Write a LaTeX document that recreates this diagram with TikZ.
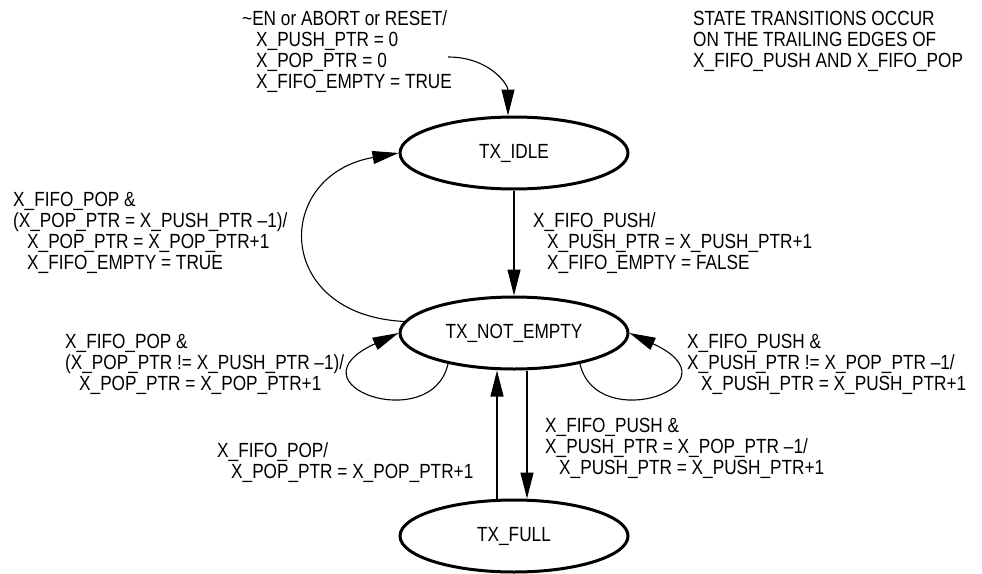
\documentclass[tikz,border=0pt]{standalone}
\usepackage{fontspec}
\setmainfont[FakeStretch=0.84]{Liberation Sans}
\usetikzlibrary{arrows.meta,shapes.geometric}
\newcommand{\ind}{\hspace*{14pt}}

\begin{document}
\begin{tikzpicture}[x=1pt, y=-1pt,
		every node/.style={font=\fontsize{20.5}{21.2}\selectfont},
		state/.style={draw, ellipse, line width=3pt, minimum width=228pt, minimum height=72pt, inner sep=0pt},
		lbl/.style={align=left, anchor=base west, inner sep=0pt},
		trans/.style={line width=1.1pt, -{Triangle[length=26pt,width=13pt]}}]
		%%%%% START %%%%%
		\useasboundingbox (0,0) rectangle (982,573);
		
		\node[state] (idle) at (514,153) {TX\_IDLE};
		\node[state] (notempty) at (514,333) {TX\_NOT\_EMPTY};
		\node[state] (full) at (514,536) {TX\_FULL};
		
		\coordinate (init) at (448,57);
		\draw[trans] (init) .. controls (490,57) and (508,85) .. ([xshift=-6pt]idle.north);
		\draw[trans] (idle.south) -- (notempty.north);
		\draw[trans] (notempty.174) .. controls (273,315) and (273,175) .. (idle.west);
		
		\draw[trans] (notempty.205) .. controls (432,436) and (285,385) .. (notempty.west);
		\draw[trans] (notempty.335) .. controls (596,436) and (743,385) .. (notempty.east);
		
		\draw[trans] ([xshift=13pt]notempty.south) -- ([xshift=13pt]full.north);
		\draw[trans] ([xshift=-17pt]full.north) -- ([xshift=-17pt]notempty.south);
		
		% labels: base west is the baseline of the last line
		\node[lbl] (resetlbl) at (242,88.6) {\textasciitilde EN or ABORT or RESET/\\ \ind X\_PUSH\_PTR = 0\\ \ind X\_POP\_PTR = 0\\ \ind X\_FIFO\_EMPTY = TRUE};
		\node[lbl] (notelbl) at (693,67.4) {STATE TRANSITIONS OCCUR\\ ON THE TRAILING EDGES OF\\ X\_FIFO\_PUSH AND X\_FIFO\_POP};
		
		\node[lbl] (lastpoplbl) at (13,269.6) {X\_FIFO\_POP \&\\ (X\_POP\_PTR = X\_PUSH\_PTR --1)/\\ \ind X\_POP\_PTR = X\_POP\_PTR+1\\ \ind X\_FIFO\_EMPTY = TRUE};
		\node[lbl] (firstpushlbl) at (533,269.4) {X\_FIFO\_PUSH/\\ \ind X\_PUSH\_PTR = X\_PUSH\_PTR+1\\ \ind X\_FIFO\_EMPTY = FALSE};
		
		\node[lbl] (poplbl) at (65,390.4) {X\_FIFO\_POP \&\\ (X\_POP\_PTR != X\_PUSH\_PTR --1)/\\ \ind X\_POP\_PTR = X\_POP\_PTR+1};
		\node[lbl] (pushlbl) at (687,390.4) {X\_FIFO\_PUSH \&\\ X\_PUSH\_PTR != X\_POP\_PTR --1/\\ \ind X\_PUSH\_PTR = X\_PUSH\_PTR+1};
		
		\node[lbl] (lastpushlbl) at (545,474.4) {X\_FIFO\_PUSH \&\\ X\_PUSH\_PTR = X\_POP\_PTR --1/\\ \ind X\_PUSH\_PTR = X\_PUSH\_PTR+1};
		\node[lbl] (fullpoplbl) at (217,478.2) {X\_FIFO\_POP/\\ \ind X\_POP\_PTR = X\_POP\_PTR+1};
		
		%%%%% END %%%%%
	\end{tikzpicture}
\end{document}
